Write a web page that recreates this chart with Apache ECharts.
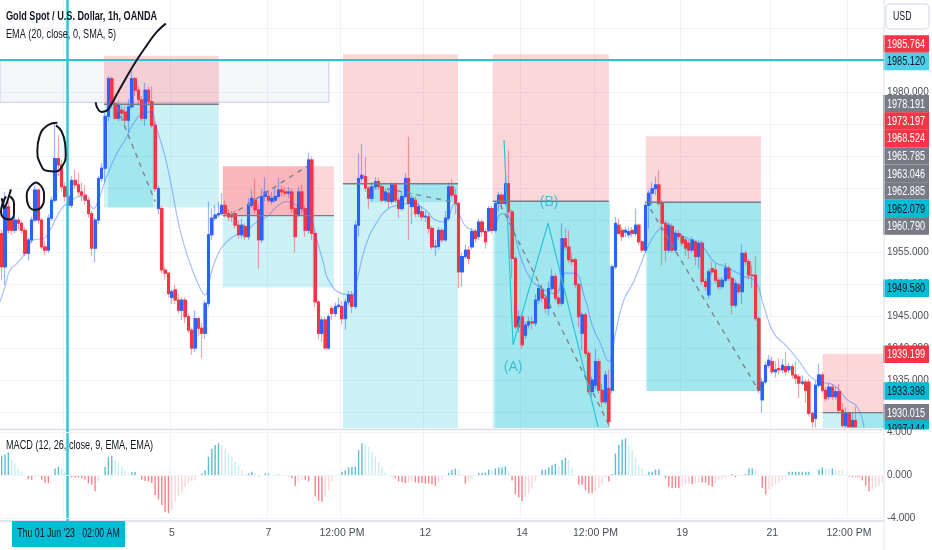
<!DOCTYPE html>
<html>
<head>
<meta charset="utf-8">
<style>html,body{margin:0;padding:0;background:#fff}#chart{width:932px;height:550px}</style>
<script src="https://cdn.jsdelivr.net/npm/echarts@6/dist/echarts.min.js"></script>
</head>
<body>
<div id="chart"></div>
<script>
// candles, 1h
var opens = [
1958,1952.8,1962.2,1960.1,1958.5,1960.1,1959.6,1958.5,1954.9,1957,
1960.1,1964.8,1960.1,1955.9,1955.4,1960.4,1963.2,1969.7,1968.7,1965.3,
1963.8,1962.4,1966.3,1965.6,1964.5,1964,1963.2,1961.1,1955.7,1960.1,
1966.6,1968.2,1976.3,1982.2,1978.3,1976,1977.3,1977,1975.7,1977.8,
1982.2,1980.4,1978.9,1976,1980.4,1978.6,1974.9,1961.9,1961.9,1952.3,
1951.8,1948,1949.2,1947.6,1946,1947.6,1945,1942.9,1940.1,1944.7,
1943.2,1942.4,1947.1,1957.8,1960.4,1960.9,1961.1,1962.4,1961.1,1960.9,
1961.1,1959.3,1957.8,1959.1,1957.5,1962.4,1963.2,1961.7,1957,1963.8,
1963.8,1963,1963.2,1963.8,1964.8,1964.5,1964.3,1964.5,1961.9,1961,
1964.5,1961.9,1958.5,1969.5,1958,1947.3,1942.4,1944.5,1940.1,1946.3,
1945.5,1946.6,1946.6,1944.7,1947.3,1948.4,1946.6,1959.3,1966.6,1966.9,
1965.1,1963.5,1965.3,1966.1,1965.3,1963.2,1964.3,1963,1965.6,1963.2,
1961.9,1963.8,1966.6,1962.2,1963.2,1961.1,1961.4,1960.6,1960.6,1958.8,
1955.9,1956,1958.5,1957,1960.4,1965.3,1964,1962.7,1952,1954.4,
1955.4,1955.9,1958.3,1957.5,1959.8,1958.3,1958.5,1961.9,1958.5,1962.7,
1964,1962.7,1965.8,1961.4,1954.1,1943.4,1945,1942.1,1943.7,1944.2,
1944,1947.6,1949.2,1947.9,1946.3,1949.4,1951.3,1947.9,1947.1,1957.2,
1955.9,1953.9,1953.9,1950,1942.4,1945.3,1939.3,1933.3,1934.3,1938,
1933.5,1931.7,1933.8,1933.5,1952.8,1959.3,1958.5,1958.2,1957.8,1958.5,
1958,1959.3,1956.7,1955.4,1962.4,1964.3,1965,1965.6,1962.7,1959.6,
1955.4,1959.1,1955.4,1958,1957.5,1957,1956.5,1955.4,1956.7,1954.4,
1956.5,1950.5,1948.4,1952.5,1952.3,1950.7,1949.7,1950.7,1952.6,1951,
1946.8,1950,1948.9,1954.9,1953.6,1951.5,1951.5,1944.7,1932,1934.8,
1937.4,1938,1936.4,1936.9,1936.7,1937.2,1936.7,1937.2,1935.9,1935.6,1934.6,1934.8,
1934.8,1929.9,1929.1,1934.3,1935.9,1933.5,1932.5,1934,1932.5,1933.3,1930.4,1928,1929.9,1927.8,1928.8];
var closes = [
1952.8,1962.2,1958.5,1958.5,1960.1,1959.6,1958.5,1954.9,1957,1960.1,
1964.8,1960.1,1955.9,1955.4,1960.4,1963.2,1969.7,1968.7,1965.3,1963.8,
1962.4,1966.3,1965.6,1964.5,1964,1963.2,1961.1,1955.7,1960.1,1966.6,
1968.2,1976.3,1982.2,1978.3,1976,1978.1,1976.8,1975.7,1977.8,1982.2,
1980.4,1978.9,1976,1980.4,1978.6,1974.9,1965,1965,1952.3,1951.8,
1948.6,1948.9,1947.6,1946,1947.6,1945,1942.9,1940.1,1944.7,1943.2,
1942.4,1947.1,1957.8,1960.4,1960.9,1961.1,1962.4,1961.1,1960.6,1960.6,
1959.3,1957.8,1959.3,1957.5,1962.4,1963.5,1961.7,1957,1963.8,1964.5,
1963.2,1963.5,1963.8,1964.8,1964.5,1964.3,1964.5,1961.9,1957.5,1964.5,
1961.9,1958.5,1969.5,1958,1947.3,1942.4,1944.5,1940.1,1945,1945.5,
1946.6,1946.8,1944.7,1947.3,1948.4,1946.6,1959.3,1966.6,1967.1,1965.1,
1963.5,1965.3,1966.1,1965.3,1963.2,1964.5,1963,1965.6,1963.2,1961.9,
1963.8,1966.6,1962.7,1963.5,1961.1,1962.2,1960.6,1960.7,1958.8,1955.9,
1956,1958.5,1957,1960.4,1965.3,1964,1962.7,1952,1954.4,1955.4,
1954.1,1958.3,1957.2,1959.8,1958.3,1956.7,1961.9,1958.5,1962.7,1964,
1962.7,1965.8,1961.4,1954.1,1943.4,1945,1940.6,1943.7,1944.2,1944,
1947.6,1949.4,1947.9,1946.3,1949.4,1951.3,1947.9,1947.1,1957.2,1955.9,
1953.9,1953.6,1950,1945,1945.3,1939.3,1933.3,1935.1,1938,1933.5,
1931.7,1935.9,1928.6,1952.8,1959.6,1958,1957.5,1958.5,1958.3,1958,
1959.3,1956.7,1955.4,1962.4,1964.3,1965,1965.6,1962.7,1959.6,1955.4,
1959.3,1955.4,1958,1957.5,1956.5,1955.7,1955.4,1957,1954.4,1956.5,
1950.5,1949.7,1952,1952,1950.7,1949.7,1950.7,1952.6,1951,1946.8,
1950.2,1948.9,1954.9,1953.6,1951.5,1951.4,1944.7,1933.5,1934.8,1937.4,
1938.2,1936.4,1936.7,1936.7,1937.4,1936.4,1937.2,1935.9,1935.4,1934.6,1934.8,1933.5,
1929.9,1928.6,1934.3,1935.9,1933.5,1932.2,1934,1932.5,1933.3,1930.4,1928,1929.9,1927.8,1928.8,1927.8];
var highs = [
1958.6,1964.5,1963,1960.5,1960.6,1960.5,1960,1959,1957.4,1960.6,
1965.5,1965,1960.5,1956.8,1961,1963.8,1975.2,1973.4,1969.5,1966,
1964.5,1967,1968,1967.5,1966,1965.5,1963.8,1961.5,1960.5,1967,
1969,1976.8,1982.6,1982.5,1979,1978.8,1978,1977.8,1979,1983.3,
1982.5,1981,1979.5,1981.5,1981,1981,1975.5,1965.5,1962.3,1952.8,
1952,1949.3,1950,1948.5,1948,1948,1945.5,1943.3,1946,1945,
1944,1947.5,1963,1962,1962.5,1963,1964.3,1963.2,1961.8,1961.5,
1961.6,1960,1960.3,1959.6,1963.5,1964.8,1966.5,1962.5,1965,1966.8,
1964.8,1964.5,1965.3,1966.7,1965.5,1965.3,1965.3,1965,1962.2,1965.3,
1965.6,1962.3,1970.6,1970,1958.3,1947.6,1945,1945,1945.5,1946.8,
1947.2,1948,1947.5,1947.8,1949,1949,1960,1970.5,1972,1969.9,
1965.5,1966,1966.8,1966.6,1965.8,1965,1964.8,1966,1966,1963.6,
1964.5,1967.5,1973.1,1964,1963.8,1962.8,1962.2,1961.5,1961,1959.2,
1957,1959,1958.9,1961.5,1966,1966.5,1965,1963,1955,1956.3,
1956,1958.8,1958.8,1960.3,1960.2,1958.8,1962.3,1962.3,1963,1964.5,
1964.3,1967,1971,1961.8,1954.5,1946,1945.5,1944.2,1945,1945,
1948.5,1950.3,1950,1948.3,1950.5,1952.5,1951.8,1948.3,1959.6,1958.8,
1958.5,1955,1954.2,1950.4,1945.8,1945.7,1939.7,1935.6,1940,1938.5,
1934.5,1936.5,1936.7,1953.2,1960.6,1960.4,1959,1959.1,1959,1959,
1961.9,1959.6,1957,1963,1964.8,1966,1966.9,1967.9,1963.3,1960,
1959.8,1959.6,1958.5,1958.5,1958,1957.4,1957,1957.5,1957,1957,
1956.9,1951,1952.5,1953.6,1953.4,1951.2,1951.2,1953.4,1953,1951.3,
1950.8,1950.4,1956.3,1955.4,1954,1953,1954.5,1945,1935.5,1938,
1939,1938.8,1938,1938.5,1938.4,1939.5,1937.8,1937.6,1938,1936,1935.8,1935.2,
1935.3,1930.2,1935,1937.7,1936.3,1934,1934.6,1934.5,1934,1934.5,1931.5,1930.8,1930.2,1930,1931];
var lows = [
1950.7,1950,1958,1957.8,1958,1958.5,1958,1954.5,1953.8,1956.5,
1959.8,1959.5,1955.5,1954.6,1955,1960,1962.8,1967,1964.5,1963,
1962,1962,1965,1963.8,1963,1962.5,1960.5,1954.5,1953.5,1959.5,
1966,1966,1975.5,1977.5,1975.8,1975.5,1976,1975,1973.8,1977.5,
1979.5,1978,1975.5,1974.8,1978,1974.5,1964.5,1961,1951.8,1950.8,
1948,1947,1947,1945.5,1944.5,1944,1942.5,1939,1939.5,1942,
1938.5,1941.5,1946.5,1957,1960,1960.5,1960.8,1960.5,1960,1959.8,
1958.8,1957.2,1957.2,1957,1957,1962,1961,1952.5,1956.5,1963,
1962.8,1962.5,1962.8,1963.5,1963.8,1963.8,1963.5,1961.2,1955,1960.5,
1961,1957.5,1958,1957,1946.5,1941.5,1941,1939.8,1939.8,1944.5,
1945,1946.2,1943.8,1943,1946.8,1945.5,1946.2,1957.5,1966,1964.5,
1961.8,1963,1964.8,1964.8,1962.8,1962.8,1962,1962.6,1962.8,1960.4,
1961.5,1963.5,1957,1959.5,1960.5,1960.5,1960,1959.8,1958,1955.5,
1954.5,1955.5,1956.5,1956.7,1960,1963.5,1961,1949.5,1949.7,1954,
1953.2,1955.5,1956.5,1957,1957.5,1955.6,1958.2,1958,1958.2,1961.5,
1961.8,1962.3,1960.5,1951,1943,1942.5,1940,1941.5,1943.2,1943,
1943.5,1947,1947.2,1945.5,1945.2,1949,1947.4,1946.5,1946.7,1955.4,
1953.4,1953,1949.5,1943.4,1939.7,1938.8,1932.8,1932.5,1933.7,1933,
1930.8,1931.3,1927.8,1933,1952.4,1957.8,1956.8,1957.4,1957.3,1957.4,
1957.6,1956.3,1955,1955,1958.8,1962.5,1964,1962.3,1953,1953.6,
1955,1955,1955,1957,1956,1954.5,1954,1955,1953,1952.5,
1950,1949,1947.8,1951.5,1950.2,1949.2,1949.3,1950.3,1950.6,1945.4,
1946.4,1948.5,1947,1953,1950.8,1949.5,1944.3,1933,1930,1934.4,
1937,1936,1935.5,1936,1936.2,1935.8,1936.2,1935.3,1934.5,1932.3,1934.2,1931.5,
1929.4,1927.7,1927.7,1933.9,1933,1931.8,1932,1932,1932,1929.8,1927.7,1927.7,1927.7,1927.7,1927.7];

// MACD histogram, one value per bar
var macdValues = [
1.8,1.9,2.1,1.4,1.1,.6,.3,0,-.37,-.45,
-.2,-.15,-.45,-.75,-.75,-.15,.6,.77,.6,.3,
-.15,-.2,-.25,-.25,-.3,-.45,-.77,-.9,-1.5,-.6,
0,.77,1.7,1.8,1.4,1.2,.77,.45,.15,.25,
.3,0,-.45,-.55,-.6,-.75,-1.85,-2.3,-2.8,-3.45,
-3.55,-3.2,-2.5,-2,-1.7,-1.1,-.75,-.6,-.45,-.1,
.15,.45,1.7,2.45,2.8,2.95,2.8,2.45,2,1.7,
1.2,.9,.45,.05,.15,.3,.15,-.15,0,.15,
.15,.03,-.03,.06,0,-.1,-.15,-.3,-1,-.6,
-.45,-.45,-.6,0,-2,-2.4,-2.5,-2,-1.4,-.6,
-.15,.03,.3,.45,.7,.77,.77,2.3,2.95,2.9,
2.6,2.15,1.7,1.2,.77,.3,0,-.15,-.3,-.6,
-.7,-.75,-.7,-.6,-.7,-.75,-.75,-.8,-.8,-.85,
-1,-.7,-.4,-.15,.2,.5,.6,.5,.1,-.8,
-.5,-.3,-.1,.2,.2,.2,.5,.45,.6,.7,
.7,.8,.4,-.5,-1.8,-2.1,-2.45,-2.1,-1.7,-1.2,
-.6,-.1,.5,.5,.7,.9,1.05,.8,1.4,1.6,
1.4,.7,0,-.9,-.9,-1.4,-1.7,-1.7,-1.5,-1.2,
-.9,-.3,-.6,.1,2,2.8,3.3,3.4,2.8,2.3,
1.6,.9,.6,.1,.3,.3,.5,.5,.05,-.3,
-1.1,-1.2,-1.2,-1.2,-1.1,-.9,-.85,-.85,-.8,-.7,
-.7,-.7,-.95,-1.1,-.75,-.45,-.4,-.3,-.15,.1,
-.2,-.1,0,.1,.6,.6,.5,-.1,-1.2,-1.8,
-1.3,-1.1,-.85,-.7,-.4,-.2,.3,.3,.3,.3,
.3,.3,.3,-.1,-.05,.5,.7,.65,.6,.6,
.5,.45,.4,.1,-.15,-.2,-.2,-.2,-.5,-1,
-1.5,-1.3,-1.15,-1,-.7];

// EMA line as read: [bar, price]
var emaPoints = [
[0,1947.3],[1.5,1949.7],[3,1952.3],[5,1953.3],[8,1955.2],[10,1957],[13,1957.2],[15,1958.5],[17,1960.6],[19,1962.2],
[21,1963],[24,1963.8],[26,1963.2],[28,1961.9],[29.5,1963.2],[32,1966.9],[35,1970.5],[37.5,1972.6],[40,1975.2],[43,1976.8],
[45,1977],[47,1974.2],[49,1971],[51,1966.4],[54,1958.5],[57,1953.3],[60,1949.4],[61.5,1948.4],[62.5,1950.2],[65,1954.4],
[68,1956.7],[71,1957.8],[74,1958.5],[77,1959.8],[80,1960.6],[83,1962.2],[86,1963],[88,1962.7],[90,1961.9],[93,1960.6],
[95,1957],[97,1953.3],[98.5,1950.7],[102.5,1948.6],[105.5,1948.4],[107,1950.7],[109.5,1955.9],[113,1959.8],[116.5,1961.9],
[119.5,1962.4],[123.5,1962.7],[127.5,1961.7],[130.5,1960.1],[133,1959.8],[136.5,1962.7],[138,1960.6],[140.5,1958.8],
[145.5,1958.3],[147.5,1958.5],[150.5,1961.1],[153,1960.1],[156,1954.4],[159,1951],[162.5,1949.4],[166.5,1948.6],
[169.5,1951.8],[172,1951.8],[175.5,1947.6],[177.5,1943.7],[180,1940.8],[182.5,1938],[184.5,1942.4],[187,1947.6],
[190,1950.5],[192,1953.1],[194,1955.7],[196.5,1958],[198.5,1958.8],[201,1958.3],[204,1957.8],[208,1956.7],[211,1955.7],
[214,1953.6],[217.5,1952.8],[220.5,1952],[223,1951.3],[226.5,1950.5],[229,1946.6],[232,1942.4],[236,1940.3],[240,1937.7],
[243,1935.6],[246,1934.8],[250,1934.3],[254,1932],[257,1930.9],[259,1927.7]];

var barCount = 265;
// ticks under the MACD pane; the one near bar 19 sits behind the crosshair date
var tickBars = [19, 51, 80, 102, 127, 156, 178, 204, 231, 254];
var tickTexts = [' ', '5', '7', '12:00 PM', '12', '14', '12:00 PM', '19', '21', '12:00 PM'];

// position tool boxes: [barFrom, barTo, priceTop, priceBottom]
var noteBox = [[0, 98.6, 1985.12, 1978.5]];
var riskZones = [
    [31.2, 65.6, 1985.764, 1978.191],
    [66.8, 100.1, 1968.524, 1960.79],
    [66.8, 92, 1968.524, 1960.79],
    [102.8, 137.3, 1986, 1965.785],
    [147.7, 182.5, 1986, 1963.046],
    [193.6, 228.1, 1973.197, 1962.885],
    [246.6, 265, 1939.199, 1930.015]
];
var rewardZones = [
    [31.2, 65.6, 1978.191, 1962.079],
    [66.8, 100.1, 1960.79, 1949.58],
    [102.8, 137.3, 1965.785, 1927.6],
    [147.7, 182.8, 1963.046, 1927.6],
    [193.6, 228.1, 1962.885, 1933.398],
    [246.6, 265, 1930.015, 1927.6]
];
var reachedZones = [
    [32.4, 45.9, 1978.191, 1962.079],
    [110.9, 137.3, 1965.785, 1962.9],
    [148.4, 182.8, 1963.046, 1927.6],
    [194, 228.1, 1962.885, 1933.398],
    [252.7, 265, 1930.015, 1927.6]
];
var entryLines = [
    [[31.2, 1978.191], [65.6, 1978.191]],
    [[66.8, 1960.79], [100.1, 1960.79]],
    [[102.8, 1965.785], [137.3, 1965.785]],
    [[147.7, 1963.046], [182.5, 1963.046]],
    [[193.6, 1962.885], [228.1, 1962.885]],
    [[246.6, 1930.015], [265, 1930.015]]
];
var dashedLines = [
    [[35, 1977.8], [46.5, 1963]],
    [[69, 1960.8], [92, 1968.5]],
    [[116, 1965], [137, 1962.8]],
    [[150, 1962.5], [182.8, 1927.8]],
    [[195, 1961.8], [227.5, 1933.4]]
];
var waveLine = [[151.1, 1972.6], [153.8, 1940.6], [164.3, 1959.6], [179.3, 1927.8]];
var waveTexts = [[153.8, 1937.1, '(A)'], [164.6, 1962.9, '(B)']];
var crosshairPrice = 1985.12;

// hand drawn marks
var sketchArrow = [[28.7,1978.5],[29.2,1977.6],[30.5,1977],[32,1977.2],[33.5,1978.3],[35.5,1980.2],[38,1982.5],[41,1985.1],[44,1987.4],[47,1989.5],[49.7,1990.8]];
var sketchBig = [[17.2,1975.3],[14,1974.8],[11.8,1973.1],[11.2,1971],[12,1969],[14,1967.8],[16.5,1967.7],[18.5,1968.4],[19.7,1970.3],[19.5,1972.1],[18.5,1973.9],[16.8,1974.9]];
var sketchMid = [[10.8,1966],[9,1965.3],[8,1963.8],[8.5,1962.4],[10.5,1961.7],[12.5,1962.2],[13.2,1963.8],[12.5,1965.3],[10.8,1966]];
var sketchSmall = [[1.8,1963.8],[.8,1962.7],[.3,1961.4],[1.2,1960.4],[2.8,1960.2],[4.2,1961.1],[4.2,1962.7],[3,1963.8]];
var sketchTick = [[.5,1963.5],[1.2,1961.9],[2,1962.7],[3.3,1964.9]];

// price tags on the right: value, centre y, kind
var tagTexts = ['1985.764','1985.120','1978.191','1973.197','1968.524','1965.785','1963.046','1962.885','1962.079','1960.790','1949.580','1939.199','1933.398','1930.015','1927.144'];
var tagY = [44, 61.5, 103.7, 121, 138.5, 156, 173.7, 191, 208.7, 226, 288.3, 354.3, 391, 412.7, 429];
var tagKinds = ['red','cross','grey','red','red','grey','grey','grey','teal','grey','teal','red','teal','grey','teal'];

var FONT = '"Liberation Sans",Arial,sans-serif';
var GRID = '#f0f3fa';
var UP = '#2962ff';
var DOWN = '#f23645';
var SQUEEZE = 0.73; // the picture's text is squeezed sideways

var categories = [];
for (var i = 0; i < barCount; i++)
{
    var at = tickBars.indexOf(i);
    categories.push(at >= 0 ? tickTexts[at] : '');
}

var wickData = [], bodyData = [];
for (var k = 0; k < opens.length; k++)
{
    wickData.push([opens[k], closes[k], lows[k], highs[k]]);
    bodyData.push([opens[k], closes[k], Math.min(opens[k], closes[k]), Math.max(opens[k], closes[k])]);
}

// darker bars while the histogram moves away from zero
var macdData = macdValues.map(function (v, idx)
{
    var prev = idx > 0 ? macdValues[idx - 1] : 0;
    var color;
    if (v >= 0) color = v >= prev ? '#5fbcd3' : '#c9edf1';
    else color = v <= prev ? '#f88489' : '#fdd5d8';
    return { value: v, itemStyle: { color: color } };
});

function areas(list)
{
    return list.map(function (z)
    {
        return [{ coord: [z[0], z[2]] }, { coord: [z[1], z[3]] }];
    });
}

function zoneSeries(list, color, border)
{
    return {
        type: 'line', xAxisIndex: 2, yAxisIndex: 0, data: [], z: 1, silent: true,
        markArea: {
            silent: true,
            itemStyle: { color: color, borderColor: border || 'transparent', borderWidth: border ? 1 : 0 },
            data: areas(list)
        }
    };
}

function pathSeries(points, color, width, dash, smooth, z)
{
    return {
        type: 'line', xAxisIndex: 2, yAxisIndex: 0, data: points, symbol: 'none', z: z,
        smooth: smooth, silent: true, animation: false,
        lineStyle: { color: color, width: width, type: dash ? [5, 5] : 'solid' }
    };
}

// squeezed text, x is the anchor
function label(text, x, y, align, opts)
{
    return {
        type: 'text', z: opts.z || 8, x: x, y: y, scaleX: SQUEEZE,
        style: {
            text: text, x: 0, y: 0, textAlign: align, textVerticalAlign: 'middle',
            fill: opts.fill || '#131722', fontSize: opts.size || 12.5, fontWeight: opts.weight || 'normal', fontFamily: FONT
        }
    };
}

var series = [
    zoneSeries(noteBox, 'rgba(120,123,170,0.07)', '#c9cce4'),
    zoneSeries(riskZones, 'rgba(242,54,69,0.2)'),
    zoneSeries(rewardZones, 'rgba(0,188,212,0.2)'),
    zoneSeries(reachedZones, 'rgba(0,188,212,0.2)'),
    {
        type: 'candlestick', xAxisIndex: 0, yAxisIndex: 0, data: wickData, barWidth: 3, z: 3, silent: true,
        itemStyle: { color: 'rgba(41,98,255,0.45)', color0: 'rgba(242,54,69,0.45)', borderColor: 'rgba(41,98,255,0.45)', borderColor0: 'rgba(242,54,69,0.45)', borderWidth: 1.2 }
    },
    {
        type: 'candlestick', xAxisIndex: 0, yAxisIndex: 0, data: bodyData, barWidth: 2.6, z: 4, silent: true,
        itemStyle: { color: UP, color0: DOWN, borderColor: UP, borderColor0: DOWN, borderWidth: 1 }
    },
    pathSeries(emaPoints, 'rgba(41,98,255,0.4)', 1.2, false, true, 5),
    pathSeries(waveLine, '#26c6da', 1.2, false, false, 5),
    pathSeries([[0, crosshairPrice], [barCount, crosshairPrice]], '#26c6da', 2, false, false, 6),
    pathSeries(sketchArrow, '#131722', 2, false, true, 7),
    pathSeries(sketchBig, '#131722', 2, false, true, 7),
    pathSeries(sketchMid, '#131722', 2, false, true, 7),
    pathSeries(sketchSmall, '#131722', 2, false, true, 7),
    pathSeries(sketchTick, '#131722', 2, false, false, 7),
    {
        type: 'scatter', xAxisIndex: 2, yAxisIndex: 0, z: 6, silent: true, symbolSize: 0,
        data: waveTexts,
        label: {
            show: true, position: 'inside', color: '#1fb6cf', fontSize: 14, fontFamily: FONT,
            formatter: function (p) { return p.value[2]; }
        }
    },
    {
        type: 'bar', xAxisIndex: 1, yAxisIndex: 1, data: macdData, barWidth: 1.4, z: 3, silent: true
    }
];

entryLines.forEach(function (seg)
{
    series.push(pathSeries(seg, '#787b86', 1.4, false, false, 5));
});
dashedLines.forEach(function (seg)
{
    series.push(pathSeries(seg, '#7d8090', 1.4, true, false, 5));
});

// things that are not data: pane borders, legend text, price tags
var graphics = [
    { type: 'rect', z: 6, shape: { x: 0, y: 428, width: 884, height: 3 }, style: { fill: '#ffffff' } },
    { type: 'line', z: 6, shape: { x1: 0, y1: 429.5, x2: 884, y2: 429.5 }, style: { stroke: '#dadce6', lineWidth: 1.5 } },
    { type: 'line', z: 6, shape: { x1: 0, y1: 521, x2: 884, y2: 521 }, style: { stroke: '#dadce6', lineWidth: 1.5 } },
    { type: 'line', z: 6, shape: { x1: 884, y1: 0, x2: 884, y2: 550 }, style: { stroke: '#e4e6ee', lineWidth: 1 } },
    label('Gold Spot / U.S. Dollar, 1h, OANDA', 6, 17, 'left', { weight: 'bold' }),
    label('EMA (20, close, 0, SMA, 5)', 6, 34.5, 'left', {}),
    label('MACD (12, 26, close, 9, EMA, EMA)', 6, 446, 'left', {}),
    { type: 'line', z: 7, shape: { x1: 67.5, y1: 0, x2: 67.5, y2: 521 }, style: { stroke: '#26c6da', lineWidth: 2.4 } },
    { type: 'rect', z: 8, shape: { x: 12, y: 521, width: 113, height: 26 }, style: { fill: '#00bcd4' } },
    label("Thu 01 Jun '23   02:00 AM", 68.5, 534, 'center', { z: 9, size: 12 }),
    { type: 'rect', z: 8, shape: { x: 886, y: 4, width: 43, height: 25, r: 4 }, style: { fill: '#ffffff', stroke: '#e0e3eb', lineWidth: 1.5 } },
    label('USD', 893, 17, 'left', { z: 9, size: 12 })
];

var TAG_FILL = { red: DOWN, grey: '#787b86', teal: '#00bcd4', cross: '#4dd0e8' };
tagTexts.forEach(function (txt, idx)
{
    var dark = tagKinds[idx] === 'teal' || tagKinds[idx] === 'cross';
    graphics.push({ type: 'rect', z: 5, shape: { x: 883, y: tagY[idx] - 8.8, width: 46, height: 17.6 }, style: { fill: TAG_FILL[tagKinds[idx]] } });
    graphics.push(label(txt, 906, tagY[idx] + 0.5, 'center', { z: 5, size: 12.5, fill: dark ? '#131722' : '#ffffff' }));
});
// the lowest tag is cut off by the pane border
graphics.push({ type: 'rect', z: 5.5, shape: { x: 883, y: 429.5, width: 49, height: 12 }, style: { fill: '#ffffff' } });

var myChart = echarts.init(document.getElementById('chart'));
myChart.setOption({
    animation: false,
    backgroundColor: '#ffffff',
    grid: [
        // price pane runs past the picture's pane so that its ticks stay on multiples of 5
        { left: 0, right: 48, top: -3.3, height: 448, outerBoundsMode: 'none' },
        { left: 0, right: 48, top: 432, height: 86, outerBoundsMode: 'none' }
    ],
    xAxis: [
        {
            type: 'category', gridIndex: 0, data: categories, axisLine: { show: false }, axisTick: { show: false }, axisLabel: { show: false },
            splitLine: { show: true, lineStyle: { color: GRID }, interval: function (i, v) { return v !== ''; } }
        },
        {
            type: 'category', gridIndex: 1, data: categories, axisLine: { show: false }, axisTick: { show: false },
            axisLabel: { interval: 0, hideOverlap: false, margin: 10, color: '#4a4e59', fontSize: 10.5, fontFamily: FONT },
            splitLine: { show: true, lineStyle: { color: GRID }, interval: function (i, v) { return v !== ''; } }
        },
        { type: 'value', gridIndex: 0, min: 0, max: barCount, show: false, splitLine: { show: false } }
    ],
    yAxis: [
        {
            type: 'value', gridIndex: 0, position: 'right', min: 1925, max: 1995, interval: 5,
            axisLine: { show: false }, axisTick: { show: false },
            splitLine: { show: true, showMinLine: false, lineStyle: { color: GRID } },
            axisLabel: {
                color: '#4a4e59', fontSize: 10, fontFamily: FONT, margin: 3, showMinLabel: false,
                formatter: function (v) { return v >= 1990 ? '' : v.toFixed(3); }
            }
        },
        {
            type: 'value', gridIndex: 1, position: 'right', min: -4, max: 4, interval: 4, z: 10,
            axisLine: { show: false }, axisTick: { show: false },
            splitLine: { show: true, lineStyle: { color: GRID } },
            axisLabel: {
                color: '#4a4e59', fontSize: 10, fontFamily: FONT, margin: 3,
                formatter: function (v) { return v.toFixed(3); }
            }
        }
    ],
    series: series,
    graphic: { elements: graphics }
});
</script>
</body>
</html>
